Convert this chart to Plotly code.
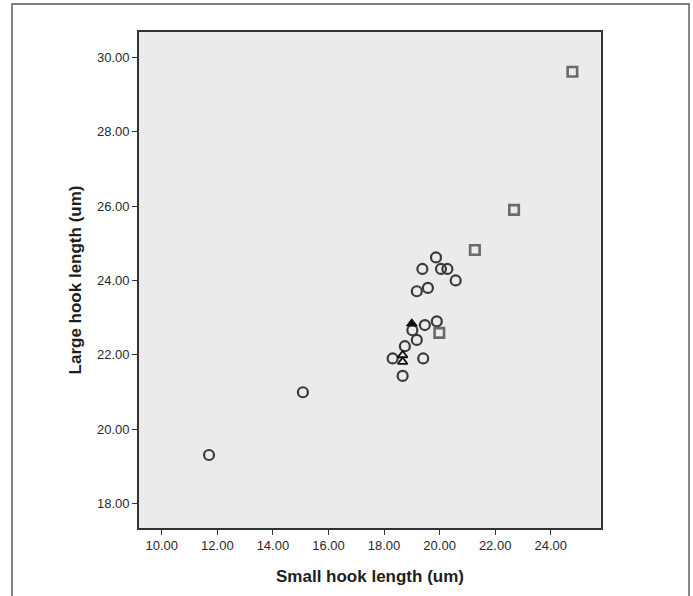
import plotly.graph_objects as go

# Data
circle_x = [11.70, 15.08, 18.67, 18.31, 18.75, 19.41, 19.18, 19.02, 19.47, 19.90,
            19.18, 19.58, 19.38, 19.87, 20.05, 20.28, 20.58]
circle_y = [19.30, 20.99, 21.43, 21.90, 22.23, 21.90, 22.40, 22.66, 22.80, 22.90,
            23.71, 23.80, 24.31, 24.62, 24.31, 24.31, 24.00]
square_x = [19.99, 21.27, 22.68, 24.78]
square_y = [22.59, 24.82, 25.90, 29.62]
tri_filled_x = [19.00]
tri_filled_y = [22.84]
tri_open_x = [18.67, 18.67]
tri_open_y = [21.99, 21.81]

x_ticks = [10, 12, 14, 16, 18, 20, 22, 24]
y_ticks = [18, 20, 22, 24, 26, 28, 30]

W, H = 693, 596
L, R, T, B = 139, 601, 32, 528
FONT = "Liberation Sans, Arial, sans-serif"

fig = go.Figure()
fig.add_trace(go.Scatter(
    x=circle_x, y=circle_y, mode="markers",
    marker=dict(symbol="circle-open", size=10, color="#3a3a3a", line=dict(width=2.2, color="#3a3a3a")),
    showlegend=False, hoverinfo="x+y"))
fig.add_trace(go.Scatter(
    x=square_x, y=square_y, mode="markers",
    marker=dict(symbol="square-open", size=9.5, color="#6a6a6a", line=dict(width=2.6, color="#6a6a6a")),
    showlegend=False))
fig.add_trace(go.Scatter(
    x=tri_open_x, y=tri_open_y, mode="markers",
    marker=dict(symbol="triangle-up-open", size=8.5, color="#111111", line=dict(width=1.8, color="#111111")),
    showlegend=False))
fig.add_trace(go.Scatter(
    x=tri_filled_x, y=tri_filled_y, mode="markers",
    marker=dict(symbol="triangle-up", size=9.5, color="#111111", line=dict(width=1, color="#111111")),
    showlegend=False))

axis_common = dict(
    showgrid=False, zeroline=False, showline=True, mirror=True,
    linecolor="#333333", linewidth=1.6,
    ticks="outside", ticklen=5, tickwidth=1.4, tickcolor="#333333",
    tickfont=dict(family=FONT, size=13, color="#2a2a2a"),
    tickformat=".2f",
)

fig.update_xaxes(
    range=[9.18, 25.81], tickvals=x_ticks,
    title=dict(text="<b>Small hook length (um)</b>", standoff=18,
               font=dict(family=FONT, size=17, color="#1e1e1e")),
    **axis_common)
fig.update_yaxes(
    range=[17.335, 30.69], tickvals=y_ticks,
    title=dict(text="<b>Large hook length (um)</b>", standoff=11,
               font=dict(family=FONT, size=17, color="#1e1e1e")),
    **axis_common)

pw, ph = R - L, B - T
def px_to_paper_x(p):
    return (p - L) / pw
def px_to_paper_y(p):
    return (B - p) / ph

x0 = px_to_paper_x(12)
x1 = px_to_paper_x(689)
y_top = px_to_paper_y(4)
y_bot = px_to_paper_y(620)
fig.add_shape(type="path", xref="paper", yref="paper",
              path=f"M {x0} {y_bot} L {x0} {y_top} L {x1} {y_top} L {x1} {y_bot}",
              line=dict(color="#555555", width=1.4), layer="below")

fig.update_layout(
    width=W, height=H,
    margin=dict(l=L, r=W - R, t=T, b=H - B),
    paper_bgcolor="white", plot_bgcolor="#ebebeb",
)

fig.write_html("out.html", config={"displayModeBar": False},
               post_script="document.body.style.margin='0px';")
